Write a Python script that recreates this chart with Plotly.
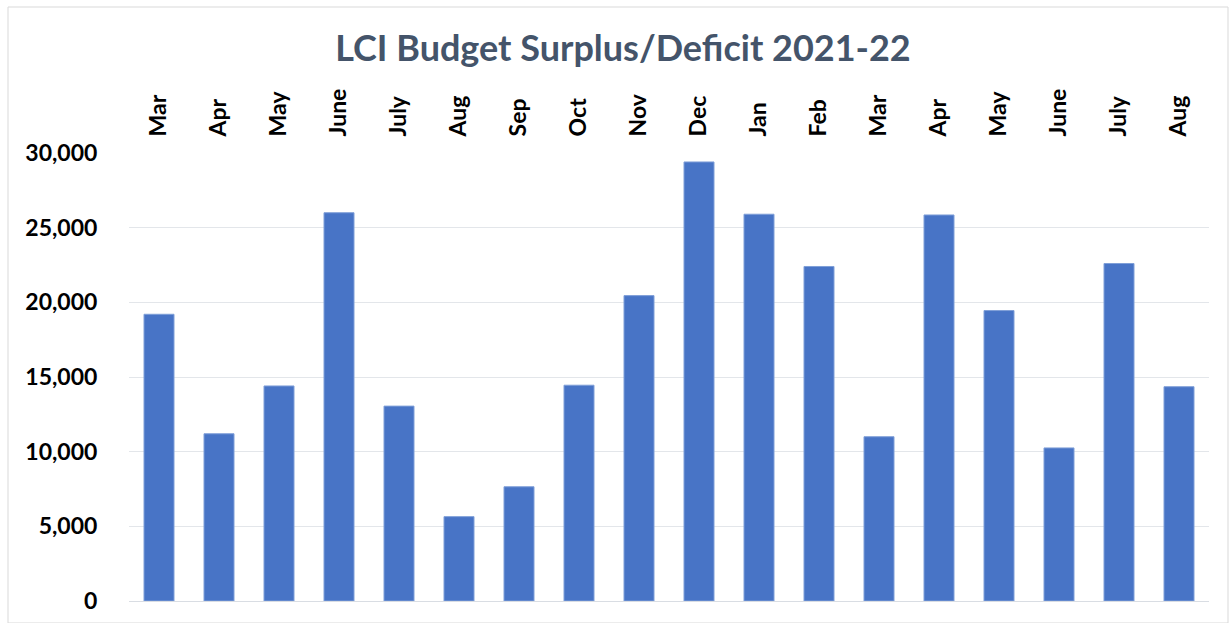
import plotly.graph_objects as go

months = ["Mar", "Apr", "May", "June", "July", "Aug", "Sep", "Oct", "Nov",
          "Dec", "Jan", "Feb", "Mar", "Apr", "May", "June", "July", "Aug"]
values = [19200, 11200, 14400, 26000, 13050, 5650, 7650, 14450, 20450,
          29400, 25900, 22400, 11000, 25850, 19450, 10250, 22600, 14350]
y_ticks = [0, 5000, 10000, 15000, 20000, 25000, 30000]
title_text = "LCI Budget Surplus/Deficit 2021-22"

x_idx = list(range(len(months)))

fig = go.Figure()
fig.add_trace(go.Bar(
    x=x_idx, y=values,
    marker=dict(color="#4874C6", line=dict(color="#7F9FD8", width=1)),
    width=0.5,
    hoverinfo="skip",
))

fig.update_layout(
    width=1230, height=623,
    margin=dict(l=129, r=21, t=153, b=22),
    paper_bgcolor="white", plot_bgcolor="white",
    showlegend=False,
    font=dict(family="Lato, 'Open Sans', sans-serif", color="#000000"),
    title=dict(
        text="<b>" + title_text + "</b>",
        x=623 / 1230, xanchor="center", xref="container",
        y=1 - 48 / 623, yanchor="middle", yref="container",
        font=dict(size=36, color="#44546A"),
    ),
    xaxis=dict(
        side="top",
        tickmode="array", tickvals=x_idx,
        ticktext=["<b>" + m + "</b>" for m in months],
        tickangle=-90,
        tickfont=dict(size=23, color="#000000"),
        ticks="outside", ticklen=11, tickcolor="rgba(0,0,0,0)",
        range=[-0.5, len(months) - 0.5],
        showgrid=False, showline=False, zeroline=False,
        automargin=False,
    ),
    yaxis=dict(
        range=[0, 30000],
        tickmode="array", tickvals=y_ticks,
        ticktext=["<b>" + f"{v:,}" + "</b>" for v in y_ticks],
        tickfont=dict(size=23, color="#000000"),
        ticks="outside", ticklen=26, tickcolor="rgba(0,0,0,0)",
        showgrid=True, gridcolor="#E3E6EA", gridwidth=1,
        zeroline=True, zerolinecolor="#D9DDE3", zerolinewidth=1,
        showline=False,
        automargin=False,
    ),
    shapes=[dict(
        type="rect", xref="paper", yref="paper",
        x0=-121 / 1080, x1=1 + 19 / 1080, y0=-22 / 448, y1=1 + 146 / 448,
        line=dict(color="#D9D9D9", width=1), fillcolor="rgba(0,0,0,0)",
        layer="below",
    )],
)

fig.write_html("out.html")
